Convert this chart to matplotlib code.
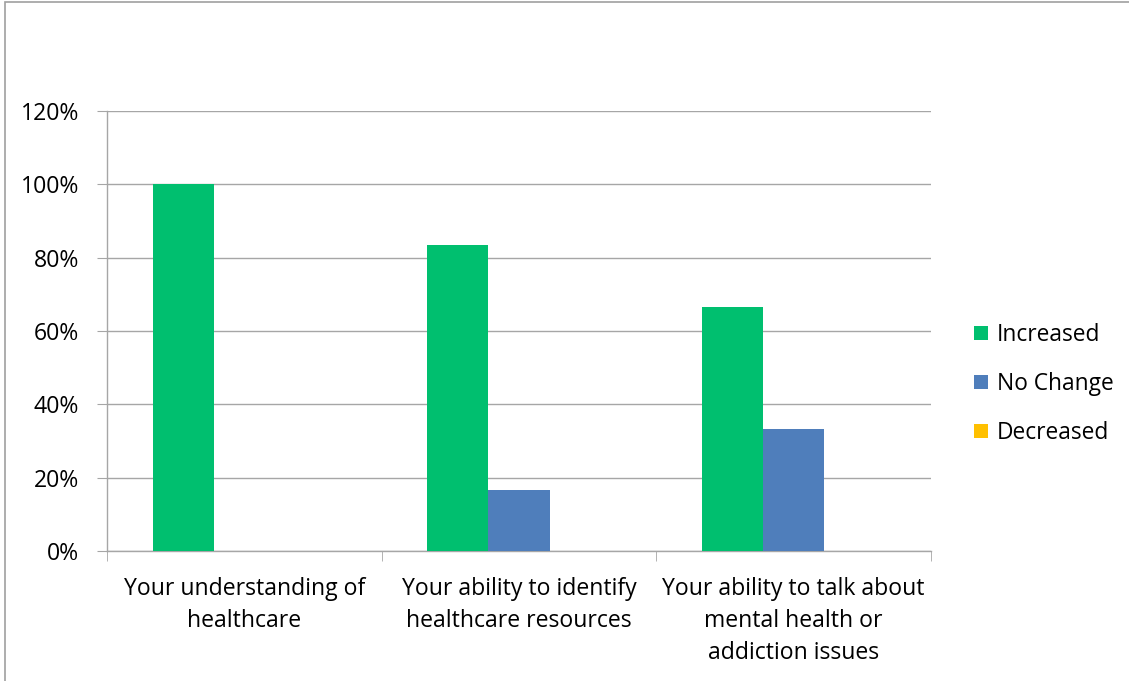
import matplotlib
matplotlib.use("Agg")
import matplotlib.pyplot as plt
import numpy as np
from matplotlib.patches import Rectangle

categories = ["Your understanding of\nhealthcare",
              "Your ability to identify\nhealthcare resources",
              "Your ability to talk about\nmental health or\naddiction issues"]
series_names = ["Increased", "No Change", "Decreased"]
increased = [1.0, 0.8333, 0.6667]
no_change = [0.0, 0.1667, 0.3333]
decreased = [0.0, 0.0, 0.0]
colors = ["#00BF6F", "#4F7EBB", "#FFC000"]
yticks = [0, 0.2, 0.4, 0.6, 0.8, 1.0, 1.2]
ytick_labels = ["0%", "20%", "40%", "60%", "80%", "100%", "120%"]

plt.rcParams['font.family'] = ['Open Sans', 'DejaVu Sans']
W, H = 1129, 681
fig = plt.figure(figsize=(W/100, H/100), dpi=100)
ax = fig.add_axes([107/W, (H-551)/H, (931-107)/W, (551-111)/H])

x = np.arange(len(categories))
bw = 61/274
data = [increased, no_change, decreased]
handles = []
for i, (vals, c, name) in enumerate(zip(data, colors, series_names)):
    b = ax.bar(x + (i-1)*bw, vals, width=bw, color=c, label=name, zorder=3)
    handles.append(b)

ax.set_xlim(-0.5, 2.5)
ax.set_ylim(0, 1.2)
ax.set_yticks(yticks)
ax.set_yticklabels(ytick_labels, fontsize=16.6)
ax.yaxis.grid(True, color="#A6A6A6", linewidth=1, zorder=0)
ax.set_axisbelow(True)
ax.set_xticks(x)
ax.set_xticklabels(categories, fontsize=16.6, linespacing=1.46)
ax.set_xticks([-0.5, 0.5, 1.5, 2.5], minor=True)
ax.tick_params(axis='x', which='major', length=0, pad=18.5)
ax.tick_params(axis='x', which='minor', length=7, color="#A6A6A6", direction='out')
ax.tick_params(axis='y', length=7, color="#A6A6A6", direction='out', pad=13)
for s in ["top", "right"]:
    ax.spines[s].set_visible(False)
for s in ["left", "bottom"]:
    ax.spines[s].set_color("#A6A6A6")
    ax.spines[s].set_linewidth(1)

leg = fig.legend(handles=handles, labels=series_names, loc="center left",
                 bbox_to_anchor=(953/W, (H-384)/H), frameon=False, fontsize=16.4,
                 handlelength=0.62, handleheight=0.62, handletextpad=0.4,
                 labelspacing=1.1)

fig.patches.append(Rectangle((5/W, -0.1), 1.2, (H-2)/H + 0.1, transform=fig.transFigure,
                             fill=False, edgecolor="#A0A0A0", linewidth=1.2))
fig.savefig("out.png", dpi=100)
